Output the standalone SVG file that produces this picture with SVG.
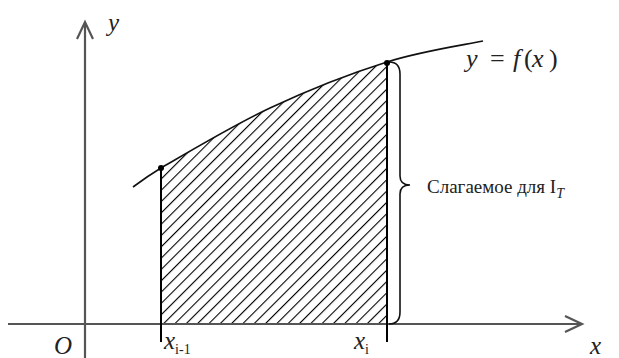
<svg xmlns="http://www.w3.org/2000/svg" width="619" height="358" viewBox="0 0 619 358">
<style>
.axis{stroke:#555;stroke-width:2.2;fill:none}
.vl{stroke:#000;stroke-width:2;fill:none}
.curve{stroke:#111;stroke-width:1.6;fill:none}
.lbl{fill:#222}
.it{font-style:italic}
</style>
<defs>
<pattern id="hatch" patternUnits="userSpaceOnUse" width="8" height="8" patternTransform="rotate(45)">
<line x1="0" y1="0" x2="0" y2="8" stroke="#000" stroke-width="2.2"/>
</pattern>
<clipPath id="area">
<path d="M161,324 L161,168 C183.8,154.8 232.3,125.7 270,108 C307.7,90.3 351.5,73.2 387,62 L387,324 Z"/>
</clipPath>
</defs>
<rect width="619" height="358" fill="#fff"/>
<g id="hatched-area">
<rect x="161" y="50" width="226" height="274" fill="url(#hatch)" clip-path="url(#area)"/>
</g>
<g id="connectors">
<path class="axis" d="M8,324 L582,324 M565,316 L582,324 L565,332"/>
<path class="axis" d="M85,358 L85,22 M77,39 L85,22 L93,39"/>
<path class="vl" d="M161,168 L161,342"/>
<path class="vl" d="M387,62 L387,342"/>
<path class="curve" d="M133,187 C141,181 151,174 161,168 C183.8,154.8 232.3,125.7 270,108 C307.7,90.3 351.5,73.2 387,62 C422.5,50.8 467,44.5 483,41"/>
<path d="M389,62 Q400,62 400,74 L400,176 Q400,185 410,185 Q400,185 400,194 L400,312 Q400,324 389,324" fill="none" stroke="#111" stroke-width="1.6"/>
<circle cx="161" cy="168" r="3" fill="#000"/>
<circle cx="387" cy="63" r="3" fill="#000"/>
</g>
<g font-family="'Liberation Serif', 'DejaVu Serif', serif">
<g id="label-y"><text class="lbl it" x="108" y="31" font-size="25">y</text></g>
<g id="label-O"><text class="lbl it" x="54" y="354" font-size="25">O</text></g>
<g id="label-x"><text class="lbl it" x="590" y="354" font-size="25">x</text></g>
<g id="label-xi1"><text class="lbl it" x="164" y="349" font-size="25">x<tspan font-size="14" dy="5" font-style="normal">i-1</tspan></text></g>
<g id="label-xi"><text class="lbl it" x="354" y="349" font-size="25">x<tspan font-size="14" dy="5" font-style="normal">i</tspan></text></g>
<g id="label-fx"><text class="lbl" y="67" font-size="26"><tspan class="it" x="466">y</tspan><tspan x="490">=</tspan><tspan class="it" x="513">f</tspan><tspan x="524">(</tspan><tspan class="it" x="532">x</tspan><tspan x="549">)</tspan></text></g>
<g id="label-term"><text class="lbl" x="427" y="193" font-size="19">Слагаемое для I<tspan class="it" font-size="14" dy="5">T</tspan></text></g>
</g>
</svg>
